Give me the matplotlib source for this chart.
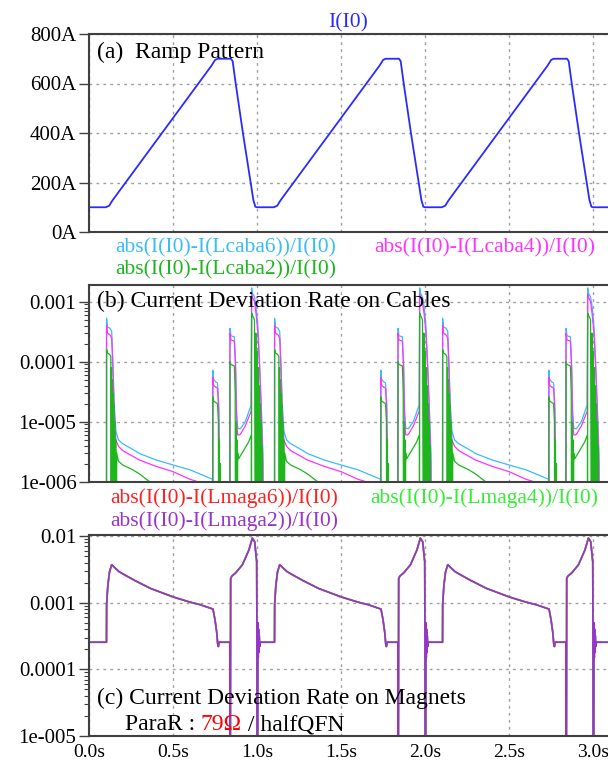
import numpy as np
import matplotlib.pyplot as plt
from matplotlib.ticker import NullFormatter

plt.rcParams['font.family'] = ['Liberation Serif', 'DejaVu Serif']

# ============ Data ============
# the three ramp cycles start at these times (s)
CYCLE_START = [0.0, 1.0, 2.0]
T_END = 3.1
OFF = 1e-8  # below the visible range of the log panels

# (a) ramp pattern, one cycle
RAMP_T = [0.00, 0.10, 0.12, 0.14, 0.73, 0.75, 0.765, 0.845, 0.855, 0.873, 0.916, 0.962, 0.978, 0.99, 1.00]
RAMP_I = [100, 100, 106, 128, 673, 695, 700, 700, 690, 600, 400, 200, 130, 102, 100]

# (b) cable deviation, one cycle each
CAB6_T = [0.100, 0.104, 0.1045, 0.110, 0.125, 0.135, 0.142, 0.150, 0.160, 0.175, 0.200, 0.265, 0.300, 0.400, 0.500, 0.600, 0.735,
          0.736, 0.737, 0.742, 0.755, 0.765, 0.772, 0.776, 0.780,
          0.838, 0.839, 0.845, 0.865, 0.872, 0.878, 0.885, 0.900, 0.930, 0.965,
          0.968, 0.972, 0.985, 0.995, 1.005, 1.015, 1.025, 1.035, 1.040]
CAB6_V = [OFF, OFF, 5.3e-4, 3.8e-4, 3.6e-4, 3.2e-4, 1e-4, 2e-5, 7e-6, 5e-6, 4.3e-6, 3.4e-6, 2.95e-6, 2.3e-6, 1.9e-6, 1.58e-6, 1.1e-6,
          OFF, 7.2e-5, 5e-5, 4.6e-5, 4.4e-5, 2e-5, 3e-6, OFF,
          OFF, 3.6e-4, 2.7e-4, 2.6e-4, 1e-4, 1.5e-5, 7.8e-6, 7.6e-6, 1e-5, 1.9e-5,
          1.7e-3, 1.4e-3, 1.2e-3, 8e-4, 4e-4, 1e-4, 2e-5, 3e-6, OFF]

CAB4_T = [0.100, 0.104, 0.1045, 0.110, 0.125, 0.135, 0.142, 0.150, 0.160, 0.175, 0.200, 0.300, 0.400, 0.500, 0.600, 0.700,
          0.736, 0.737, 0.742, 0.765, 0.772, 0.776, 0.780,
          0.838, 0.839, 0.845, 0.865, 0.872, 0.878, 0.885, 0.900, 0.930, 0.965,
          0.968, 0.972, 0.985, 0.995, 1.005, 1.015, 1.025, 1.035, 1.040]
CAB4_V = [OFF, OFF, 4.1e-4, 3.0e-4, 2.8e-4, 2.5e-4, 8e-5, 1.5e-5, 5e-6, 3.9e-6, 3.3e-6, 2.3e-6, 1.8e-6, 1.47e-6, 1.1e-6, 9e-7,
          OFF, 5.5e-5, 4e-5, 3.6e-5, 1.5e-5, 2e-6, OFF,
          OFF, 3e-4, 2.3e-4, 2.2e-4, 8e-5, 1.2e-5, 6e-6, 6.1e-6, 8.5e-6, 1.5e-5,
          1.35e-3, 1.2e-3, 1e-3, 6e-4, 3e-4, 8e-5, 1.5e-5, 2e-6, OFF]

CAB2_T = [0.100, 0.104, 0.1045, 0.110, 0.125, 0.130, 0.132, 0.134, 0.136, 0.138, 0.140, 0.142, 0.144, 0.147, 0.150, 0.153,
          0.156, 0.159, 0.162, 0.165, 0.175, 0.200, 0.260, 0.300, 0.360, 0.450,
          0.736, 0.737, 0.742, 0.765, 0.770, 0.772, 0.775, 0.778, 0.782, 0.785,
          0.838, 0.839, 0.845, 0.865, 0.870, 0.872, 0.875, 0.877, 0.880, 0.882, 0.885, 0.890, 0.920, 0.950, 0.966, 0.967,
          0.968, 0.972, 0.985, 0.990, 0.993, 0.996, 1.000, 1.003, 1.006, 1.009, 1.012, 1.015, 1.018, 1.021, 1.024, 1.027,
          1.030, 1.033]
CAB2_V = [OFF, OFF, 1.6e-4, 1.4e-4, 1.3e-4, 1.2e-4, OFF, 8e-5, OFF, 5e-5, OFF, 3e-5, OFF, 2e-5, OFF, 1e-5,
          OFF, 5e-6, OFF, 3e-6, 2.2e-6, 1.9e-6, 1.58e-6, 1.35e-6, 1e-6, 7e-7,
          OFF, 2.6e-5, 2.2e-5, 2e-5, 1e-5, OFF, 5e-6, OFF, 2e-6, OFF,
          OFF, 1e-4, 9e-5, 8.5e-5, 3e-5, OFF, 1e-5, OFF, 5e-6, OFF, 3e-6, 2.4e-6, 3.3e-6, 4.6e-6, 6e-6, OFF,
          6.5e-4, 6e-4, 5e-4, OFF, 3e-4, OFF, 1.5e-4, OFF, 8e-5, OFF, 4e-5, OFF, 2e-5, OFF, 1e-5, OFF,
          4e-6, OFF]

# (c) magnet deviation, one cycle (the three magnets overlap)
MAG_T = [0.020, 0.104, 0.105, 0.112, 0.122, 0.135, 0.180, 0.265, 0.365, 0.500, 0.600, 0.663, 0.738, 0.750, 0.760, 0.766,
         0.770, 0.774, 0.838, 0.840, 0.843, 0.850, 0.873, 0.913, 0.952, 0.972, 0.986, 0.998, 1.003, 1.005, 1.007,
         1.009, 1.011, 1.013, 1.016, 1.020]
MAG_V = [2.55e-4, 2.55e-4, 9.5e-4, 1.8e-3, 2.9e-3, 3.7e-3, 2.9e-3, 2.2e-3, 1.64e-3, 1.22e-3, 1.02e-3, 9.3e-4, 8.0e-4, 5.5e-4,
         3.6e-4, 2.4e-4, 2.2e-4, 2.55e-4, 2.55e-4, 1e-7, 2.3e-3, 2.5e-3, 2.8e-3, 3.7e-3, 6.2e-3, 9.3e-3, 8.2e-3, 4.1e-3,
         1e-7, 5e-4, 1.5e-4, 4e-4, 1.8e-4, 3.2e-4, 2.2e-4, 2.55e-4]

X_TICKS = [0.0, 0.5, 1.0, 1.5, 2.0, 2.5, 3.0]
X_LABELS = ['0.0s', '0.5s', '1.0s', '1.5s', '2.0s', '2.5s', '3.0s']
A_TICKS = [0, 200, 400, 600, 800]
A_LABELS = ['0A', '200A', '400A', '600A', '800A']
B_TICKS = [1e-6, 1e-5, 1e-4, 1e-3]
B_LABELS = ['1e-006', '1e-005', '0.0001', '0.001']
C_TICKS = [1e-5, 1e-4, 1e-3, 1e-2]
C_LABELS = ['1e-005', '0.0001', '0.001', '0.01']

BLUE = '#2b2bff'
CYAN = '#38bdf8'
MAGENTA = '#ff33ff'
GREEN = '#1fb51f'
RED = '#ff2020'
LIME = '#33ee33'
PURPLE = '#9933cc'
SPINE = '#404040'

TICK_FS = 15
NAME_FS = 15.5
LABEL_FS = 17


def tile(t, v, head=None, tail=None):
    """repeat one cycle at each cycle start"""
    ts = [np.asarray(t) + s for s in CYCLE_START]
    vs = [np.asarray(v, dtype=float) for _ in CYCLE_START]
    if head is not None:
        ts.insert(0, [0.0])
        vs.insert(0, [head])
    if tail is not None:
        ts.append([T_END])
        vs.append([tail])
    return np.concatenate(ts), np.concatenate(vs)


def style_axes(ax, ticks, labels, log=False):
    ax.set_xlim(0, 3.096)
    ax.set_xticks(X_TICKS)
    ax.set_xticklabels([])
    if log:
        ax.set_yscale('log')
    ax.set_yticks(ticks)
    ax.set_yticklabels(labels)
    ax.yaxis.set_minor_formatter(NullFormatter())
    ax.tick_params(axis='y', which='major', direction='out', length=7, width=1,
                   color=SPINE, labelsize=TICK_FS, pad=2)
    ax.tick_params(axis='y', which='minor', direction='out', length=3.5, width=0.8, color=SPINE)
    ax.tick_params(axis='x', which='both', length=0, labelsize=14, pad=6)
    ax.grid(True, which='major', color='#a0a0a0', linestyle=(0, (2, 3)), lw=1)
    for side in ('left', 'top', 'bottom'):
        ax.spines[side].set_color(SPINE)
        ax.spines[side].set_linewidth(1.5)
    ax.spines['right'].set_visible(False)


fig = plt.figure(figsize=(6.08, 7.68), dpi=100)
L = 89 / 608
W = 1 - L + 0.002
ax_a = fig.add_axes([L, 1 - 232 / 768, W, (232 - 34) / 768])
ax_b = fig.add_axes([L, 1 - 481.7 / 768, W, (481.7 - 285) / 768])
ax_c = fig.add_axes([L, 1 - 736 / 768, W, (736 - 535) / 768])

# ============ (a) Ramp ============
t, v = tile(RAMP_T, RAMP_I, tail=100)
ax_a.plot(t, v, color=BLUE, lw=1.3)
ax_a.set_ylim(0, 800)
style_axes(ax_a, A_TICKS, A_LABELS)
ax_a.text(0.015, 0.909, '(a)  Ramp Pattern', transform=ax_a.transAxes, fontsize=LABEL_FS, va='center')

# ============ (b) Cables ============
for tt, vv, c in [(CAB6_T, CAB6_V, CYAN), (CAB4_T, CAB4_V, MAGENTA), (CAB2_T, CAB2_V, GREEN)]:
    t, v = tile(tt, vv, head=OFF, tail=OFF)
    ax_b.plot(t, v, color=c, lw=0.9)
ax_b.set_ylim(1e-6, 1.9e-3)
style_axes(ax_b, B_TICKS, B_LABELS, log=True)
ax_b.text(0.015, 0.914, '(b) Current Deviation Rate on Cables', transform=ax_b.transAxes,
          fontsize=LABEL_FS, va='center')

# ============ (c) Magnets ============
for c in (RED, LIME, PURPLE):
    t, v = tile(MAG_T, MAG_V, head=2.55e-4, tail=2.55e-4)
    ax_c.plot(t, v, color=c, lw=1.2)
ax_c.set_ylim(1e-5, 1.035e-2)
style_axes(ax_c, C_TICKS, C_LABELS, log=True)
ax_c.set_xticklabels(X_LABELS)
ax_c.text(0.015, 0.189, '(c) Current Deviation Rate on Magnets', transform=ax_c.transAxes,
          fontsize=LABEL_FS, va='center')
t1 = ax_c.text(0.069, 0.055, 'ParaR : ', transform=ax_c.transAxes, fontsize=LABEL_FS, va='center')
t2 = ax_c.annotate('79\u03a9', xycoords=t1, xy=(1, 0), va='bottom', color='red', fontsize=LABEL_FS)
ax_c.annotate(' / halfQFN', xycoords=t2, xy=(1, 0), va='bottom', fontsize=LABEL_FS)

# ============ trace names ============
def fx(px):
    return px / 608


def fy(py):
    return 1 - py / 768


fig.text(fx(348), fy(22.5), 'I(I0)', color=BLUE, fontsize=NAME_FS, ha='center', va='center')
fig.text(fx(115), fy(248), 'abs(I(I0)-I(Lcaba6))/I(I0)', color=CYAN, fontsize=NAME_FS, va='center')
fig.text(fx(374), fy(248), 'abs(I(I0)-I(Lcaba4))/I(I0)', color=MAGENTA, fontsize=NAME_FS, va='center')
fig.text(fx(115), fy(270), 'abs(I(I0)-I(Lcaba2))/I(I0)', color=GREEN, fontsize=NAME_FS, va='center')
fig.text(fx(110), fy(498), 'abs(I(I0)-I(Lmaga6))/I(I0)', color=RED, fontsize=NAME_FS, va='center')
fig.text(fx(370), fy(498), 'abs(I(I0)-I(Lmaga4))/I(I0)', color=LIME, fontsize=NAME_FS, va='center')
fig.text(fx(110), fy(521), 'abs(I(I0)-I(Lmaga2))/I(I0)', color=PURPLE, fontsize=NAME_FS, va='center')

fig.savefig('out.png', dpi=100)
